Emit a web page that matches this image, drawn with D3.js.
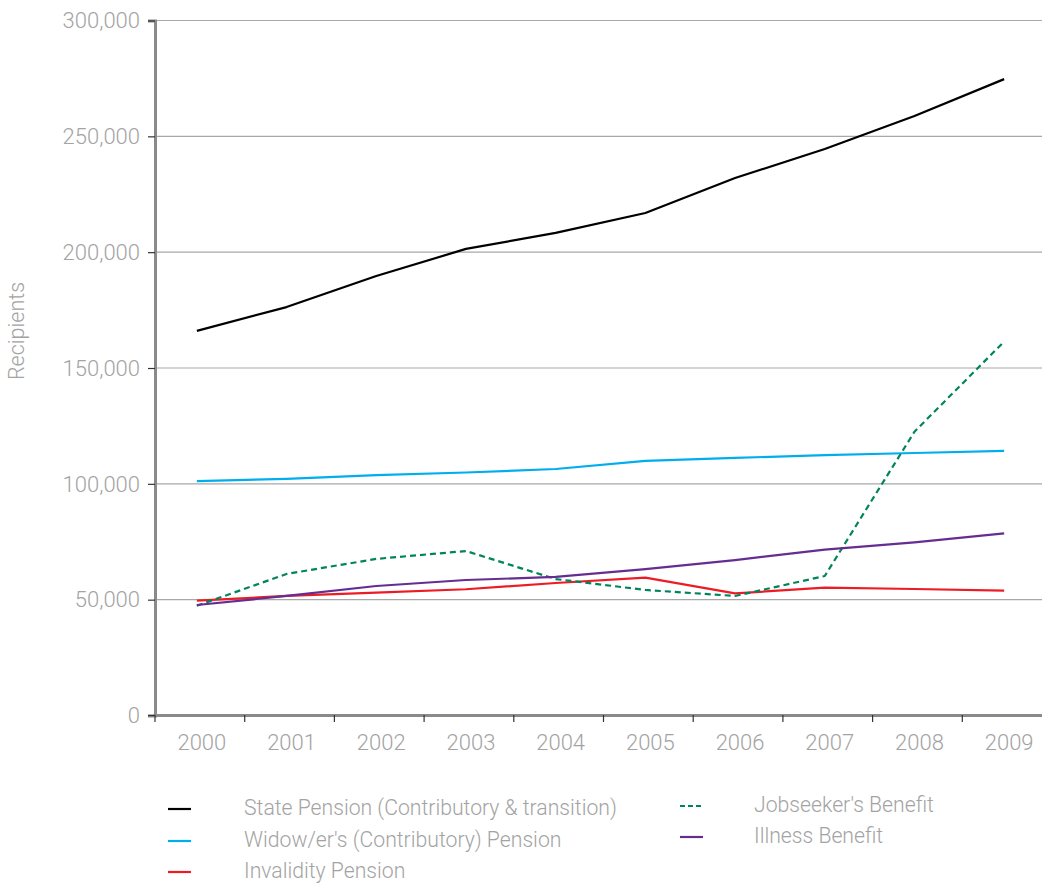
<!DOCTYPE html>
<html><head><meta charset="utf-8">
<script src="https://cdn.jsdelivr.net/npm/d3@7"></script>
<style>
body{margin:0;background:#fff;}
text{font-family:Roboto,"Liberation Sans",sans-serif;font-weight:300;fill:#a3a3a3;}
</style></head>
<body><svg id="c" width="1042" height="884"></svg>
<script>
const years = ["2000","2001","2002","2003","2004","2005","2006","2007","2008","2009"];
const yTicks = [0,50000,100000,150000,200000,250000,300000];
const statePension = [166000,176300,189700,201400,208300,216900,232000,244500,258800,274700];
const widowPension = [101200,102100,103800,104900,106400,109900,111200,112400,113300,114200];
const invalidityPension = [49600,51600,53000,54500,57200,59500,52700,55200,54600,53900];
const jobseekersBenefit = [47400,61100,67600,71000,58900,54200,51600,60200,122500,161400];
const illnessBenefit = [47700,51600,55900,58500,59800,63200,67100,71600,74700,78600];
const seriesNames = ["State Pension (Contributory & transition)","Widow/er's (Contributory) Pension","Invalidity Pension","Jobseeker's Benefit","Illness Benefit"];
const seriesColors = ["#000000","#00aeef","#ed1c24","#00845c","#662d91"];

const series = [
  {name:seriesNames[0],values:statePension,color:seriesColors[0],dash:null},
  {name:seriesNames[1],values:widowPension,color:seriesColors[1],dash:null},
  {name:seriesNames[2],values:invalidityPension,color:seriesColors[2],dash:null},
  {name:seriesNames[3],values:jobseekersBenefit,color:seriesColors[3],dash:"6,4"},
  {name:seriesNames[4],values:illnessBenefit,color:seriesColors[4],dash:null}
];

const svg = d3.select("#c");
const x = d3.scaleBand().domain(years).range([155,1052]);
const y = d3.scaleLinear().domain([0,300000]).range([715.5,20.5]);
const px = d => x(d) + x.bandwidth()/2 - 3;

// gridlines
svg.append("g").selectAll("line").data(yTicks.filter(t=>t>0)).join("line")
  .attr("x1",155).attr("x2",1042).attr("y1",d=>y(d)).attr("y2",d=>y(d))
  .attr("stroke","#a8a8a8").attr("stroke-width",1.2);

// y axis
const ya = svg.append("g").attr("transform","translate(155,0)")
  .call(d3.axisLeft(y).tickValues(yTicks).tickSize(7).tickPadding(8).tickFormat(d3.format(",")));
ya.select(".domain").attr("stroke","#8a8a8a").attr("stroke-width",3);
ya.selectAll(".tick line").attr("stroke","#333").attr("stroke-width",1.2);
ya.selectAll(".tick text").style("font-size","22px").style("fill","#a3a3a3").attr("dy","0.33em");
ya.selectAll(".tick line").filter(d=>d===0).remove();

// x axis
const xa = svg.append("g").attr("transform","translate(0,715.5)")
  .call(d3.axisBottom(x).tickSize(0).tickPadding(0));
xa.select(".domain").remove();
xa.append("line").attr("x1",153.5).attr("x2",1042).attr("y1",0).attr("y2",0)
  .attr("stroke","#8a8a8a").attr("stroke-width",3);
xa.selectAll(".tick text").attr("x",2).attr("y",34).attr("dy","0").style("font-size","22px").style("fill","#a3a3a3");
svg.append("g").selectAll("line").data(years).join("line")
  .attr("x1",d=>x(d)).attr("x2",d=>x(d)).attr("y1",715).attr("y2",722)
  .attr("stroke","#333").attr("stroke-width",1.2);
svg.append("line").attr("x1",148).attr("x2",155).attr("y1",715.5).attr("y2",715.5).attr("stroke","#333").attr("stroke-width",1.2);

// y title
svg.append("text").attr("transform","translate(24,331) rotate(-90)")
  .attr("text-anchor","middle").style("font-size","21.5px").text("Recipients");

// lines
const line = d3.line().x((d,i)=>px(years[i])).y(d=>y(d));
svg.append("g").selectAll("path").data(series).join("path")
  .attr("d",d=>line(d.values)).attr("fill","none")
  .attr("stroke",d=>d.color).attr("stroke-width",2.2)
  .attr("stroke-dasharray",d=>d.dash).attr("stroke-linejoin","round");

// legend
const legPos = [[168,244,808],[168,244,840],[168,244,871],[680,754,805],[680,754,836]];
const lg = svg.append("g");
series.forEach((s,i)=>{
  const [sx,tx,ly] = legPos[i];
  lg.append("line").attr("x1",sx).attr("x2",sx+23).attr("y1",ly+1).attr("y2",ly+1)
    .attr("stroke",s.color).attr("stroke-width",2.2).attr("stroke-dasharray",s.dash?"5,3":null);
  lg.append("text").attr("x",tx).attr("y",ly).attr("dy","0.35em").style("font-size","21.2px").text(s.name);
});
</script></body></html>
